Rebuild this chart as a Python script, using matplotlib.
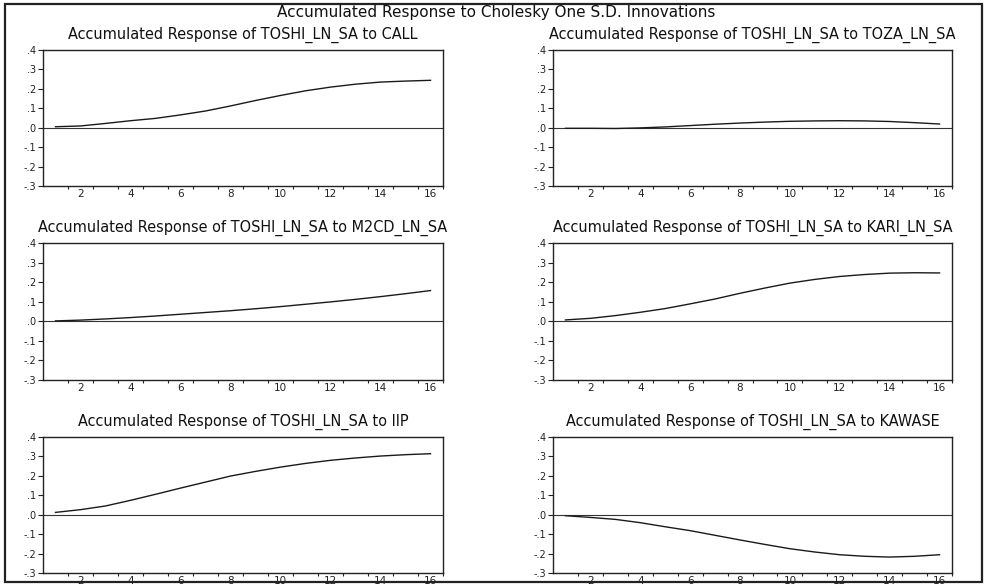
import numpy as np
import matplotlib
matplotlib.use("Agg")
import matplotlib.pyplot as plt
from matplotlib.ticker import FixedLocator, FuncFormatter
from matplotlib.patches import Rectangle

# ---------------- data ----------------
periods = list(range(1, 17))
main_title = "Accumulated Response to Cholesky One S.D. Innovations"
panel_titles = [
    "Accumulated Response of TOSHI_LN_SA to CALL",
    "Accumulated Response of TOSHI_LN_SA to TOZA_LN_SA",
    "Accumulated Response of TOSHI_LN_SA to M2CD_LN_SA",
    "Accumulated Response of TOSHI_LN_SA to KARI_LN_SA",
    "Accumulated Response of TOSHI_LN_SA to IIP",
    "Accumulated Response of TOSHI_LN_SA to KAWASE",
]
resp_call = [0.005, 0.009, 0.022, 0.036, 0.048, 0.066, 0.086, 0.112,
             0.140, 0.166, 0.190, 0.209, 0.224, 0.235, 0.240, 0.244]
resp_toza = [-0.003, -0.003, -0.004, -0.001, 0.004, 0.011, 0.018, 0.024,
             0.029, 0.033, 0.035, 0.036, 0.035, 0.032, 0.026, 0.019]
resp_m2cd = [0.002, 0.006, 0.012, 0.019, 0.027, 0.036, 0.045, 0.054,
             0.064, 0.075, 0.087, 0.099, 0.112, 0.126, 0.141, 0.157]
resp_kari = [0.007, 0.015, 0.029, 0.046, 0.065, 0.089, 0.114, 0.143,
             0.170, 0.195, 0.214, 0.229, 0.239, 0.246, 0.248, 0.247]
resp_iip = [0.012, 0.026, 0.045, 0.074, 0.105, 0.137, 0.168, 0.199,
            0.223, 0.245, 0.264, 0.280, 0.292, 0.302, 0.309, 0.314]
resp_kawase = [-0.005, -0.014, -0.024, -0.041, -0.062, -0.082, -0.106, -0.130,
               -0.153, -0.175, -0.192, -0.206, -0.214, -0.218, -0.214, -0.206]
series = [resp_call, resp_toza, resp_m2cd, resp_kari, resp_iip, resp_kawase]
y_ticks = [-0.3, -0.2, -0.1, 0.0, 0.1, 0.2, 0.3, 0.4]
x_labels = [2, 4, 6, 8, 10, 12, 14, 16]

# ---------------- layout ----------------
W, H = 986, 585
fig = plt.figure(figsize=(W / 100, H / 100), dpi=100)
plt.rcParams['font.family'] = ['DejaVu Sans']

col_px = [(43, 443), (553, 952)]
row_px = [(50, 186), (243, 380), (437, 573)]

def fmt(v, pos):
    s = "%.1f" % v
    if s.startswith("0"):
        s = s[1:]
    elif s.startswith("-0"):
        s = "-" + s[2:]
    return s

axes = []
for i, (title, vals) in enumerate(zip(panel_titles, series)):
    r, c = divmod(i, 2)
    x0, x1 = col_px[c]
    t0, t1 = row_px[r]
    ax = fig.add_axes([x0 / W, 1 - t1 / H, (x1 - x0) / W, (t1 - t0) / H])
    ax.plot(periods, vals, color="#1a1a1a", lw=1.0, zorder=3)
    ax.axhline(0, color="#333333", lw=0.8, zorder=2)
    ax.set_xlim(0.5, 16.5)
    ax.set_ylim(-0.3, 0.4)
    ax.yaxis.set_major_locator(FixedLocator(y_ticks))
    ax.yaxis.set_major_formatter(FuncFormatter(fmt))
    ax.xaxis.set_major_locator(FixedLocator(x_labels))
    ax.xaxis.set_minor_locator(FixedLocator([p + 0.5 for p in periods]))
    ax.tick_params(axis="y", direction="out", length=3.5, width=0.8,
                   pad=1.5, labelsize=7, colors="#222222")
    ax.tick_params(axis="x", which="major", length=0, pad=2.5,
                   labelsize=7.5, colors="#222222")
    ax.tick_params(axis="x", which="minor", direction="out", length=2.5,
                   width=0.8, color="#222222")
    for sp in ax.spines.values():
        sp.set_linewidth(1.0)
        sp.set_color("#222222")
    axes.append((ax, title))

# outer frame
fig.add_artist(Rectangle((5 / W, 1 - 582 / H), 977 / W, 578 / H,
                         transform=fig.transFigure, fill=False,
                         edgecolor="#222222", lw=1.6, zorder=10))

fig.canvas.draw()
renderer = fig.canvas.get_renderer()

# subplot titles (EViews text is widely spaced; compromise between width and height)
sub_texts = []
for ax, title in axes:
    t = ax.set_title(title, fontsize=10, pad=8, color="#111111")
    sub_texts.append(t)
fig.canvas.draw()
bb = sub_texts[0].get_window_extent(renderer)
fs = sub_texts[0].get_fontsize() * 397 / bb.width * 0.88
for t in sub_texts:
    t.set_fontsize(fs)

mt = fig.text(0.5 + 3 / W, 1 - 13 / H, main_title, ha="center", va="center",
              fontsize=10, color="#111111")
fig.canvas.draw()
bb = mt.get_window_extent(renderer)
mt.set_fontsize(mt.get_fontsize() * 485 / bb.width * 0.9)

fig.savefig("out.png", dpi=100)
